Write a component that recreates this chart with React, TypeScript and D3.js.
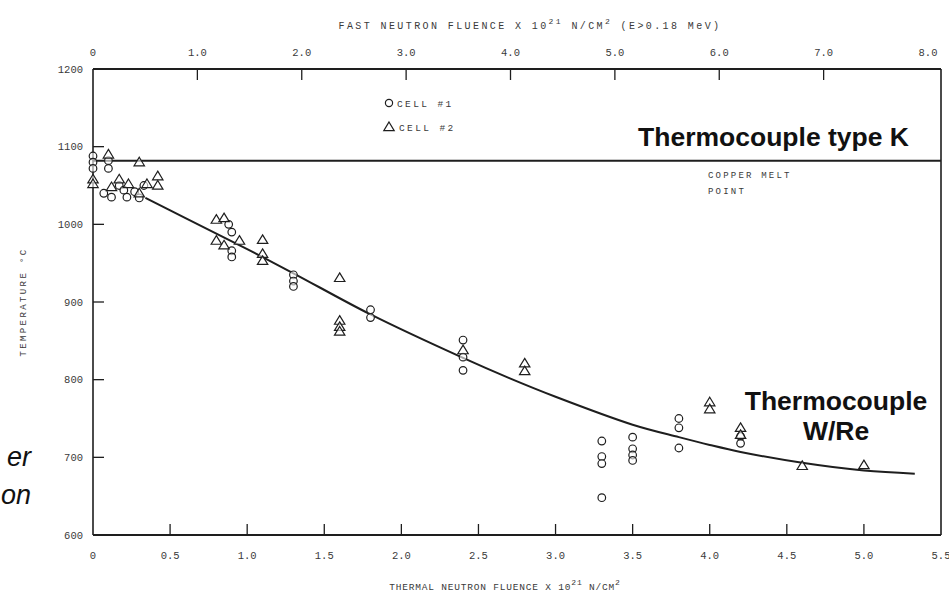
import React from "react";
import * as d3 from "d3";

const W = 949;
const H = 602;

// Axis ticks
const thermalTicks = [0, 0.5, 1.0, 1.5, 2.0, 2.5, 3.0, 3.5, 4.0, 4.5, 5.0, 5.5];
const thermalLabels = ["0", "0.5", "1.0", "1.5", "2.0", "2.5", "3.0", "3.5", "4.0", "4.5", "5.0", "5.5"];
const fastTicks = [0, 1, 2, 3, 4, 5, 6, 7, 8];
const fastLabels = ["0", "1.0", "2.0", "3.0", "4.0", "5.0", "6.0", "7.0", "8.0"];
const tempTicks = [600, 700, 800, 900, 1000, 1100, 1200];

// Cell #1 (circles): thermal fluence x 10^21, temperature °C
const cell1X = [0, 0, 0, 0.1, 0.1, 0.07, 0.12, 0.17, 0.2, 0.22, 0.27, 0.3, 0.33, 0.88, 0.9, 0.9, 0.9, 1.3, 1.3, 1.3, 1.8, 1.8, 2.4, 2.4, 2.4, 3.3, 3.3, 3.3, 3.3, 3.5, 3.5, 3.5, 3.5, 3.8, 3.8, 3.8, 4.2, 4.2];
const cell1Y = [1088, 1080, 1072, 1082, 1072, 1040, 1035, 1050, 1044, 1035, 1042, 1034, 1050, 1000, 990, 966, 958, 935, 927, 920, 890, 880, 851, 829, 812, 721, 701, 692, 648, 726, 711, 703, 696, 750, 738, 712, 727, 718];

// Cell #2 (triangles)
const cell2X = [0, 0, 0.1, 0.12, 0.17, 0.23, 0.3, 0.35, 0.3, 0.42, 0.42, 0.8, 0.85, 0.8, 0.85, 0.95, 1.1, 1.1, 1.1, 1.6, 1.6, 1.6, 1.6, 2.4, 2.8, 2.8, 4.0, 4.0, 4.2, 4.2, 4.6, 5.0];
const cell2Y = [1058, 1052, 1090, 1048, 1058, 1052, 1040, 1052, 1080, 1062, 1050, 1006, 1008, 979, 973, 979, 980, 962, 953, 931, 876, 868, 862, 838, 821, 811, 771, 762, 738, 729, 689, 690];

// Fitted curve
const fitX = [0.34, 0.6, 1.0, 1.3, 1.8, 2.4, 2.7, 3.0, 3.5, 3.8, 4.0, 4.2, 4.6, 5.0, 5.33];
const fitY = [1034, 1008, 968, 937, 884, 828, 802, 778, 742, 726, 716, 707, 693, 683, 679];

const copperMelt = 1082;

const mono = "'Liberation Mono', 'DejaVu Sans Mono', monospace";
const sans = "'Liberation Sans', Arial, sans-serif";
const ink = "#1e1e1e";
const faint = "#3a3a3a";

export default function App() {
  const xT = d3.scaleLinear().domain([0, 5.5]).range([93, 941]);
  const xF = d3.scaleLinear().domain([0, 8]).range([93, 928]);
  const y = d3.scaleLinear().domain([600, 1200]).range([535, 69]);

  const left = xT(0);
  const right = xT(5.5);
  const top = y(1200);
  const bottom = y(600);

  const fitPts: [number, number][] = fitX.map((v, i) => [xT(v), y(fitY[i])]);
  const fitPath = d3.line().curve(d3.curveCatmullRom.alpha(0.5))(fitPts) || "";

  const tri = (cx: number, cy: number) =>
    `M${cx},${cy - 5} L${cx + 5.2},${cy + 3.6} L${cx - 5.2},${cy + 3.6} Z`;

  return (
    <svg
      width={W}
      height={H}
      viewBox={`0 0 ${W} ${H}`}
      style={{ position: "absolute", left: 0, top: 0, background: "#fff" }}
    >
      <rect x={0} y={0} width={W} height={H} fill="#fff" />

      {/* Top title */}
      <text x={530} y={29} fontFamily={mono} fontSize={10} fill={faint} textAnchor="middle" letterSpacing={2.4}>
        FAST NEUTRON FLUENCE X 10
        <tspan dy={-5} fontSize={8}>21</tspan>
        <tspan dy={5}> N/CM</tspan>
        <tspan dy={-5} fontSize={8}>2</tspan>
        <tspan dy={5}> (E&gt;0.18 MeV)</tspan>
      </text>

      {/* Frame */}
      <line x1={left} y1={top} x2={right} y2={top} stroke={ink} strokeWidth={1.8} />
      <line x1={left} y1={bottom} x2={right} y2={bottom} stroke={ink} strokeWidth={1.8} />
      <line x1={left} y1={top} x2={left} y2={bottom} stroke={ink} strokeWidth={1.6} />
      <line x1={right} y1={top} x2={right} y2={bottom} stroke={ink} strokeWidth={1.6} />

      {/* Top ticks */}
      {fastTicks.map((t, i) => (
        <g key={"f" + i}>
          {t > 0 && t < 8 && (
            <line x1={xF(t)} y1={top} x2={xF(t)} y2={top + 11} stroke={ink} strokeWidth={1.3} />
          )}
          <text x={xF(t)} y={56} fontFamily={mono} fontSize={10.5} fill={faint} textAnchor="middle">
            {fastLabels[i]}
          </text>
        </g>
      ))}

      {/* Bottom ticks */}
      {thermalTicks.map((t, i) => (
        <g key={"t" + i}>
          {t > 0 && t < 5.5 && (
            <line x1={xT(t)} y1={bottom} x2={xT(t)} y2={bottom - 11} stroke={ink} strokeWidth={1.3} />
          )}
          <text x={xT(t)} y={559} fontFamily={mono} fontSize={10.5} fill={faint} textAnchor="middle">
            {thermalLabels[i]}
          </text>
        </g>
      ))}

      {/* Left ticks */}
      {tempTicks.map((t, i) => (
        <g key={"y" + i}>
          {t > 600 && t < 1200 && (
            <line x1={left} y1={y(t)} x2={left + 11} y2={y(t)} stroke={ink} strokeWidth={1.3} />
          )}
          <text x={83} y={y(t) + 3.5} fontFamily={mono} fontSize={10.5} fill={faint} textAnchor="end">
            {String(t)}
          </text>
        </g>
      ))}

      {/* Y axis title */}
      <text
        transform={`translate(26,${(top + bottom) / 2}) rotate(-90)`}
        fontFamily={mono}
        fontSize={9}
        fill={faint}
        textAnchor="middle"
        letterSpacing={2.4}
      >
        TEMPERATURE °C
      </text>

      {/* Bottom title */}
      <text x={505} y={590} fontFamily={mono} fontSize={9.5} fill={faint} textAnchor="middle" letterSpacing={0.8}>
        THERMAL NEUTRON FLUENCE X 10
        <tspan dy={-5} fontSize={8}>21</tspan>
        <tspan dy={5}> N/CM</tspan>
        <tspan dy={-5} fontSize={8}>2</tspan>
      </text>

      {/* Copper melt line */}
      <line x1={left} y1={y(copperMelt)} x2={right} y2={y(copperMelt)} stroke={ink} strokeWidth={2} />
      <text x={708} y={178} fontFamily={mono} fontSize={9} fill={faint} letterSpacing={2.2}>
        COPPER MELT
      </text>
      <text x={708} y={194} fontFamily={mono} fontSize={9} fill={faint} letterSpacing={2.2}>
        POINT
      </text>

      {/* Legend */}
      <circle cx={389} cy={103} r={3.6} fill="none" stroke={ink} strokeWidth={1.2} />
      <text x={397} y={107} fontFamily={mono} fontSize={9.5} fill={faint} letterSpacing={2.4}>
        CELL #1
      </text>
      <path d={tri(389, 127)} fill="none" stroke={ink} strokeWidth={1.2} />
      <text x={399} y={131} fontFamily={mono} fontSize={9.5} fill={faint} letterSpacing={2.4}>
        CELL #2
      </text>

      {/* Fit curve */}
      <path d={fitPath} fill="none" stroke={ink} strokeWidth={2} />

      {/* Cell 1 circles */}
      {cell1X.map((v, i) => (
        <circle key={"c" + i} cx={xT(v)} cy={y(cell1Y[i])} r={3.8} fill="#fff" fillOpacity={0.6} stroke={ink} strokeWidth={1.2} />
      ))}

      {/* Cell 2 triangles */}
      {cell2X.map((v, i) => (
        <path key={"d" + i} d={tri(xT(v), y(cell2Y[i]))} fill="#fff" fillOpacity={0.6} stroke={ink} strokeWidth={1.2} />
      ))}

      {/* Annotations */}
      <text x={909} y={146} fontFamily={sans} fontWeight="bold" fontSize={26.5} fill="#111" textAnchor="end">
        Thermocouple type K
      </text>
      <text x={836} y={410} fontFamily={sans} fontWeight="bold" fontSize={26.5} fill="#111" textAnchor="middle">
        Thermocouple
      </text>
      <text x={836} y={440} fontFamily={sans} fontWeight="bold" fontSize={26.5} fill="#111" textAnchor="middle">
        W/Re
      </text>

      {/* Side text, cut off at the left edge in the reference */}
      <text x={31} y={466} fontFamily={sans} fontStyle="italic" fontSize={27} fill="#111" textAnchor="end">
        er
      </text>
      <text x={31} y={504} fontFamily={sans} fontStyle="italic" fontSize={27} fill="#111" textAnchor="end">
        on
      </text>
    </svg>
  );
}
